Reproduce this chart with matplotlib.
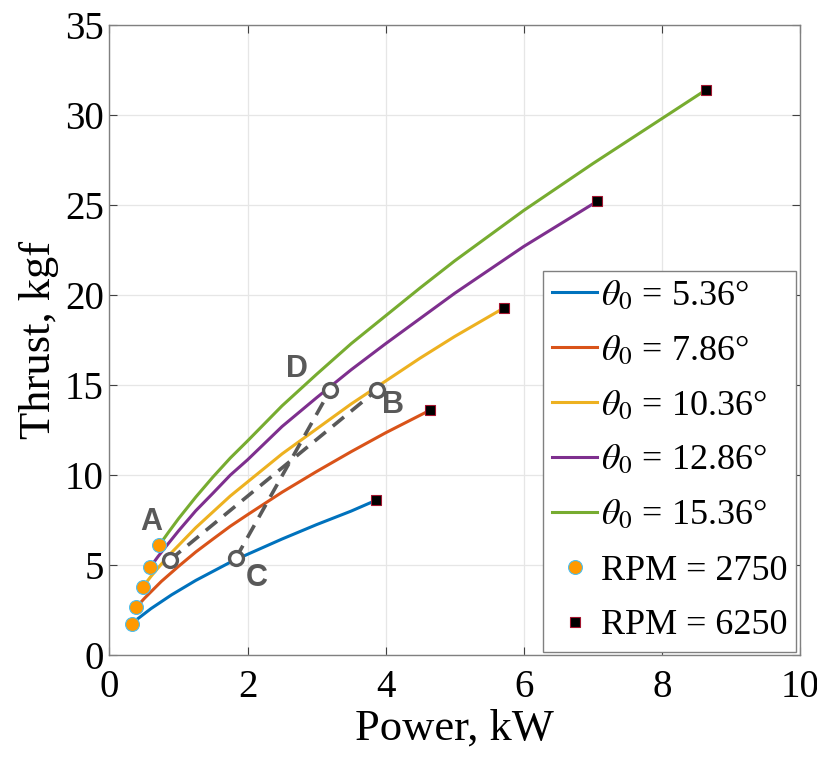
import matplotlib
matplotlib.use('Agg')
import matplotlib.pyplot as plt

plt.rcParams['font.family'] = ['Liberation Serif', 'DejaVu Serif']
plt.rcParams['mathtext.fontset'] = 'stix'

# power (kW) and thrust (kgf)
p_536 = [0.32, 0.4, 0.6, 0.9, 1.25, 1.75, 2.0, 2.5, 3.0, 3.5, 3.86]
t_536 = [1.72, 1.99, 2.58, 3.35, 4.15, 5.16, 5.6, 6.45, 7.25, 8.0, 8.6]
p_786 = [0.39, 0.5, 0.75, 1.0, 1.25, 1.5, 1.75, 2.0, 2.5, 3.0, 3.5, 4.0, 4.64]
t_786 = [2.66, 3.13, 4.09, 4.93, 5.73, 6.45, 7.16, 7.8, 9.05, 10.2, 11.3, 12.35, 13.6]
p_1036 = [0.48, 0.6, 0.75, 0.9, 1.25, 1.75, 2.5, 3.5, 4.5, 5.0, 5.72]
t_1036 = [3.77, 4.37, 5.05, 5.7, 7.08, 8.84, 11.18, 13.95, 16.5, 17.7, 19.3]
p_1286 = [0.59, 0.7, 0.8, 1.0, 1.25, 1.5, 1.75, 2.0, 2.5, 3.0, 3.5, 4.0, 5.0, 6.0, 7.06]
t_1286 = [4.88, 5.46, 5.95, 6.9, 8.02, 9.0, 10.0, 10.85, 12.7, 14.3, 15.85, 17.3, 20.1, 22.7, 25.2]
p_1536 = [0.72, 0.85, 1.0, 1.25, 1.5, 1.75, 2.0, 2.5, 3.0, 3.5, 4.0, 4.5, 5.0, 6.0, 7.0, 8.0, 8.64]
t_1536 = [6.1, 6.8, 7.58, 8.78, 9.9, 10.95, 11.9, 13.85, 15.6, 17.3, 18.85, 20.4, 21.9, 24.7, 27.3, 29.8, 31.4]

curves = [(p_536, t_536), (p_786, t_786), (p_1036, t_1036),
          (p_1286, t_1286), (p_1536, t_1536)]
pitch_labels = ['5.36', '7.86', '10.36', '12.86', '15.36']
colors = ['#0072BD', '#D95319', '#EDB120', '#7E2F8E', '#77AC30']

# operating points on the dashed paths
path_ab_p = [0.87, 3.88]
path_ab_t = [5.27, 14.75]
path_cd_p = [1.83, 3.2]
path_cd_t = [5.38, 14.75]
point_names = ['A', 'B', 'C', 'D']
point_p = [0.61, 4.1, 2.13, 2.72]
point_t = [7.4, 13.9, 4.3, 15.9]

fig = plt.figure(figsize=(8.17, 7.6), dpi=100)
ax = fig.add_axes([0.134, 0.138, 0.845, 0.829])

lines = []
for (p, t), c, lab in zip(curves, colors, pitch_labels):
    ln, = ax.plot(p, t, color=c, lw=2.2, label=r'$\theta_0$ = ' + lab + '°',
                  zorder=3, solid_joinstyle='round')
    lines.append(ln)

gray = '#595959'
ax.plot(path_ab_p, path_ab_t, '--', color=gray, lw=2.6, dashes=(4, 2.5), zorder=4)
ax.plot(path_cd_p, path_cd_t, '--', color=gray, lw=2.6, dashes=(4, 2.5), zorder=4)
ax.plot(path_ab_p + path_cd_p, path_ab_t + path_cd_t, 'o', ms=10, mfc='white',
        mec=gray, mew=2.4, ls='none', zorder=5)

lo_p = [p[0] for p, t in curves]
lo_t = [t[0] for p, t in curves]
hi_p = [p[-1] for p, t in curves]
hi_t = [t[-1] for p, t in curves]
h1, = ax.plot(lo_p, lo_t, 'o', ms=10, mfc='#FF9900', mec='#4DBEEE', mew=0.8,
              ls='none', label='RPM = 2750', zorder=6)
h2, = ax.plot(hi_p, hi_t, 's', ms=7, mfc='black', mec='#A2142F', mew=0.8,
              ls='none', label='RPM = 6250', zorder=6)

for name, x, y in zip(point_names, point_p, point_t):
    ax.text(x, y, name, family='Liberation Sans', fontweight='bold', fontsize=22,
            color=gray, ha='center', va='center', zorder=7)

ax.set_xlim(0, 10)
ax.set_ylim(0, 35)
ax.set_xticks([0, 2, 4, 6, 8, 10])
ax.set_yticks(range(0, 36, 5))
ax.grid(True, color='#e6e6e6', lw=0.9)
ax.set_axisbelow(True)
ax.tick_params(direction='in', top=True, right=True, labelsize=28, length=6,
               color='#404040')
ax.tick_params(axis='x', pad=10)
ax.tick_params(axis='y', pad=4)
for s in ax.spines.values():
    s.set_color('#808080')
    s.set_linewidth(1.0)
ax.set_xlabel('Power, kW', fontsize=32, labelpad=2)
ax.set_ylabel('Thrust, kgf', fontsize=32, labelpad=4)

leg = ax.legend(handles=lines + [h1, h2], loc='lower right', fontsize=26,
                handlelength=1.25, handletextpad=0.1, labelspacing=0.6,
                borderpad=0.25, borderaxespad=0.1, fancybox=False,
                framealpha=1, edgecolor='#808080')
leg.get_frame().set_linewidth(1.0)

fig.savefig('out.png', dpi=100)
